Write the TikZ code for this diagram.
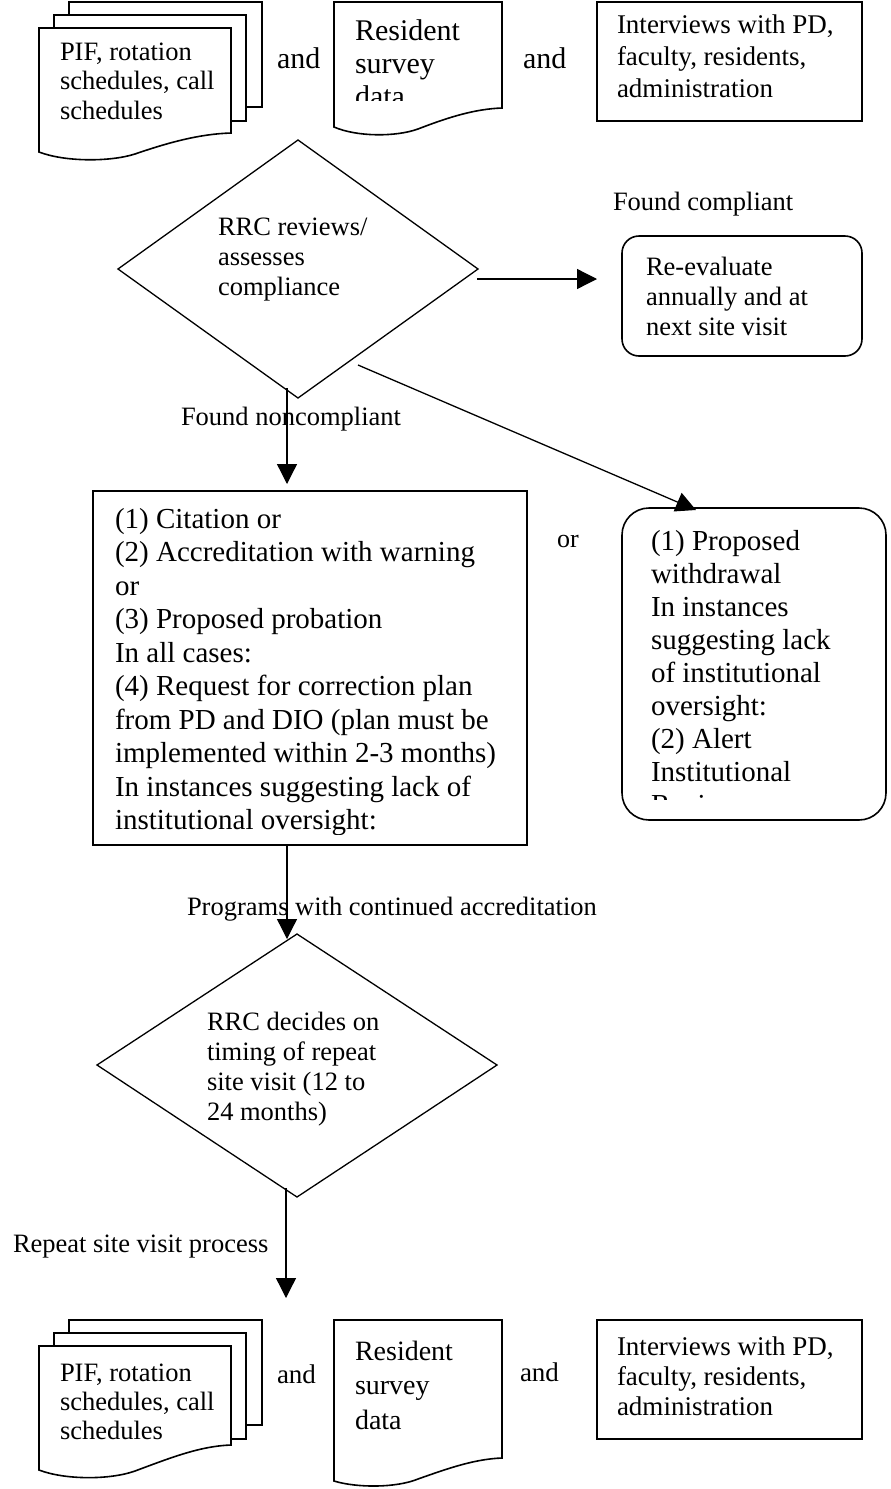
\documentclass[tikz,border=0pt]{standalone}
\usepackage{fontspec}
\setmainfont{Liberation Serif}
\usetikzlibrary{arrows.meta}
\newcommand\fsz[2]{\fontsize{#1}{#2}\selectfont}
\begin{document}
\begin{tikzpicture}[x=1pt,y=-1pt,
  shp/.style={draw=black,line width=1.6pt,fill=white,line join=miter},
  dia/.style={draw=black,line width=1.3pt,fill=white},
  con/.style={draw=black,line width=1.3pt},
  arr/.style={con,-{Triangle[length=20pt,width=20pt]}},
  txt/.style={inner sep=0pt,outer sep=0pt,anchor=north west,align=left},
  lbl/.style={inner sep=0pt,outer sep=0pt,anchor=base west}]
\useasboundingbox[fill=white] (0,0) rectangle (891,1489);

% ---------- top row ----------
\draw[shp] (69,2) rectangle (262,107);
\draw[shp] (54,15) rectangle (246,121);
\draw[shp] (39,28) -- (231,28) -- (231,133) .. controls (200,134) and (170,142) .. (135,154) .. controls (110,162) and (65,162) .. (39,152) -- cycle;
\node[txt,font=\fsz{26.5}{29.5}] (pifA) at (60,39.35) {\strut PIF, rotation\\schedules, call\\schedules};
\node[lbl,font=\fsz{30}{32}] (andA1) at (277,68) {and};

\draw[shp] (334,2) -- (502,2) -- (502,108) .. controls (475,109) and (449,117) .. (418,129) .. controls (396,137) and (357,137) .. (334,127) -- cycle;
\begin{scope}
\clip (334,2) rectangle (502,100);
\node[txt,font=\fsz{30}{33}] (resA) at (355,16.9) {\strut Resident\\survey\\data};
\end{scope}
\node[lbl,font=\fsz{30}{32}] (andA2) at (523,68) {and};

\draw[shp] (597,2) rectangle (862,121);
\node[txt,font=\fsz{27}{32}] (intA) at (617,10.6) {\strut Interviews with PD,\\faculty, residents,\\administration};

% ---------- first decision ----------
\draw[dia] (298,140) coordinate (d1t) -- (478,269) coordinate (d1r) -- (298,398) coordinate (d1b) -- (118,269) coordinate (d1l) -- cycle;
\node[txt,font=\fsz{26.5}{30}] (d1txt) at (218,214) {\strut RRC reviews/\\assesses\\compliance};

\node[lbl,font=\fsz{26.5}{30}] (fc) at (613,210) {Found compliant};
\draw[shp,rounded corners=17pt] (622,236) rectangle (862,356);
\node[txt,font=\fsz{26.5}{30}] (reev) at (646,254) {\strut Re-evaluate\\annually and at\\next site visit};

\node[lbl,font=\fsz{26.5}{30}] (fnc) at (181,425) {Found noncompliant};

% ---------- outcome boxes ----------
\draw[shp] (93,491) rectangle (527,845);
\begin{scope}
\clip (93,491) rectangle (527,834);
\node[txt,font=\fsz{29}{33.5}] (midtxt) at (115,504.55) {\strut (1) Citation or\\(2) Accreditation with warning\\or\\(3) Proposed probation\\In all cases:\\(4) Request for correction plan\\from PD and DIO (plan must be\\implemented within 2-3 months)\\In instances suggesting lack of\\institutional oversight:};
\end{scope}

\node[lbl,font=\fsz{26}{30}] (or) at (557,547) {or};

\draw[shp,rounded corners=27pt] (622,508) rectangle (886,820);
\begin{scope}
\clip (622,508) rectangle (886,799);
\node[txt,font=\fsz{29}{33}] (rtxt) at (651,526.9) {\strut (1) Proposed\\withdrawal\\In instances\\suggesting lack\\of institutional\\oversight:\\(2) Alert\\Institutional\\Review};
\end{scope}

% ---------- second decision ----------
\node[lbl,font=\fsz{26.5}{30}] (prog) at (187,915) {Programs with continued accreditation};
\draw[dia] (297,934) coordinate (d2t) -- (497,1065) coordinate (d2r) -- (297,1197) coordinate (d2b) -- (97,1065) coordinate (d2l) -- cycle;
\node[txt,font=\fsz{26.5}{30}] (d2txt) at (207,1009) {\strut RRC decides on\\timing of repeat\\site visit (12 to\\24 months)};

\node[lbl,font=\fsz{26.5}{30}] (rep) at (13,1252) {Repeat site visit process};

% ---------- bottom row ----------
\draw[shp] (69,1320) rectangle (262,1425);
\draw[shp] (54,1333) rectangle (246,1439);
\draw[shp] (39,1346) -- (231,1346) -- (231,1445) .. controls (200,1446) and (170,1458) .. (135,1471) .. controls (110,1480) and (65,1480) .. (39,1470) -- cycle;
\node[txt,font=\fsz{26.5}{29}] (pifB) at (60,1360.7) {\strut PIF, rotation\\schedules, call\\schedules};
\node[lbl,font=\fsz{27}{30}] (andB1) at (277,1383) {and};

\draw[shp] (334,1320) -- (502,1320) -- (502,1458) .. controls (475,1459) and (449,1468) .. (418,1479) .. controls (396,1488) and (357,1488) .. (334,1481) -- cycle;
\node[txt,font=\fsz{28}{34.5}] (resB) at (355,1336) {\strut Resident\\survey\\data};
\node[lbl,font=\fsz{27}{30}] (andB2) at (520,1381) {and};

\draw[shp] (597,1320) rectangle (862,1439);
\node[txt,font=\fsz{27}{30}] (intB) at (617,1334) {\strut Interviews with PD,\\faculty, residents,\\administration};

% ---------- connectors ----------
\coordinate (a1s) at (477,279);
\coordinate (a1e) at (597,279);
\draw[arr] (a1s) -- (a1e);
\coordinate (a2s) at (287,388);
\coordinate (a2e) at (287,484);
\draw[arr] (a2s) -- (a2e);
\coordinate (a3s) at (358,365);
\coordinate (a3e) at (696,510);
\draw[arr] (a3s) -- (a3e);
\coordinate (a4s) at (287,845);
\coordinate (a4e) at (287,939);
\draw[arr] (a4s) -- (a4e);
\coordinate (a5s) at (286,1188);
\coordinate (a5e) at (286,1298);
\draw[arr] (a5s) -- (a5e);
\end{tikzpicture}
\end{document}
